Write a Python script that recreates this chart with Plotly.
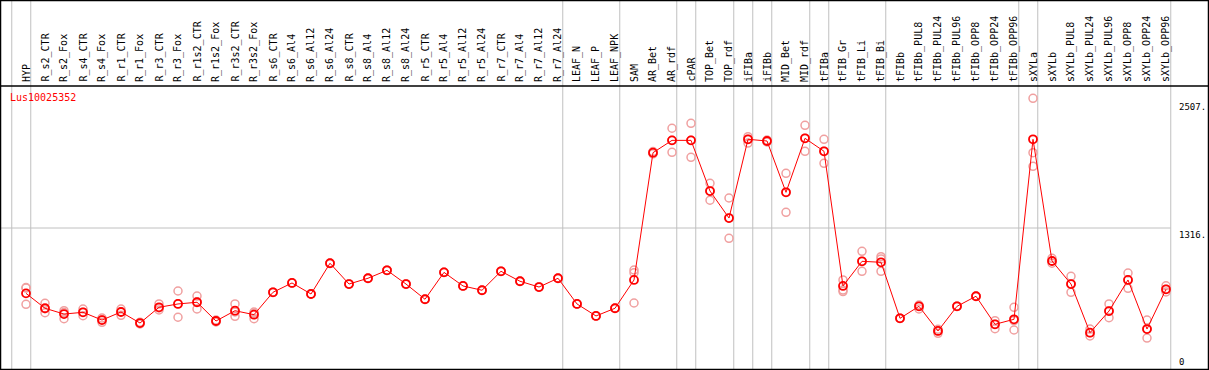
import plotly.graph_objects as go

categories = ["HYP", "R_s2_CTR", "R_s2_Fox", "R_s4_CTR", "R_s4_Fox", "R_r1_CTR", "R_r1_Fox",
              "R_r3_CTR", "R_r3_Fox", "R_r1s2_CTR", "R_r1s2_Fox", "R_r3s2_CTR", "R_r3s2_Fox",
              "R_s6_CTR", "R_s6_Al4", "R_s6_Al12", "R_s6_Al24", "R_s8_CTR", "R_s8_Al4", "R_s8_Al12",
              "R_s8_Al24", "R_r5_CTR", "R_r5_Al4", "R_r5_Al12", "R_r5_Al24", "R_r7_CTR", "R_r7_Al4",
              "R_r7_Al12", "R_r7_Al24", "LEAF_N", "LEAF_P", "LEAF_NPK", "SAM", "AR_Bet", "AR_rdf",
              "cPAR", "TOP_Bet", "TOP_rdf", "iFIBa", "iFIBb", "MID_Bet", "MID_rdf", "tFIBa",
              "tFIB_Gr", "tFIB_Li", "tFIB_Bi", "tFIBb", "tFIBb_PUL8", "tFIBb_PUL24", "tFIBb_PUL96",
              "tFIBb_OPP8", "tFIBb_OPP24", "tFIBb_OPP96", "sXYLa", "sXYLb", "sXYLb_PUL8",
              "sXYLb_PUL24", "sXYLb_PUL96", "sXYLb_OPP8", "sXYLb_OPP24", "sXYLb_OPP96"]

means = [706, 567, 513, 529, 457, 532, 429, 576, 607, 623, 448, 544, 507,
         716, 803, 700, 987, 793, 847, 921, 793, 651, 902, 775, 735, 912, 819, 765, 847, 607, 495, 567,
         831, 2019, 2134, 2134, 1661, 1409, 2144, 2128, 1649, 2153, 2032, 775, 1005, 996,
         473, 585, 355, 585, 679, 417, 464, 2144, 1008, 793, 339, 541, 831, 373, 744]

rep1 = [760, 613, 544, 560, 476, 560, 436, 607, 728, 681, 457, 607, 532,
        716, 803, 700, 987, 793, 847, 921, 793, 651, 902, 775, 735, 912, 819, 765, 847, 607, 495, 567,
        924, 2030, 2247, 2293, 1733, 1596, 2168, 2137, 1826, 2274, 2144, 831, 1098, 1048,
        473, 597, 371, 585, 679, 451, 576, 2526, 1033, 865, 373, 607, 896, 457, 777]
rep2 = [755, 563, 527, 530, 460, 535, 431, 570, 610, 628, 448, 533, 520,
        716, 803, 700, 987, 793, 847, 921, 793, 651, 902, 775, 735, 912, 819, 765, 847, 607, 495, 567,
        899, 2019, 2134, 2134, 1661, 1409, 2144, 2128, 1649, 2153, 2032, 737, 1005, 1027,
        473, 585, 355, 585, 679, 417, 452, 2019, 1008, 793, 339, 541, 831, 373, 744]
rep3 = [604, 525, 469, 497, 436, 501, 420, 551, 483, 560, 439, 492, 469,
        716, 803, 700, 987, 793, 847, 921, 793, 651, 902, 775, 735, 912, 819, 765, 847, 607, 495, 567,
        616, 2008, 2022, 1976, 1575, 1220, 2109, 2119, 1462, 2032, 1920, 723, 912, 912,
        473, 560, 333, 585, 679, 376, 364, 1892, 987, 716, 308, 479, 753, 289, 719]

group_ends = [-1, 0, 28, 31, 34, 35, 37, 38, 39, 41, 42, 45, 52, 53, 60]
tick_values = [2507, 1316, 0]
tick_labels = ["2507.", "1316.", "0"]
gene = "Lus10025352"

W, H = 1209, 370
X0_PX, STEP_PX = 26, 19          # pixel position of first category and spacing
Y0_PX, UNITS_PER_PX = 369, 1316 / 141.0
HEADER_PX = 86

x = list(range(len(categories)))
xr = [-X0_PX / STEP_PX, (W - X0_PX) / STEP_PX]
yr = [(Y0_PX - H) * UNITS_PER_PX, Y0_PX * UNITS_PER_PX]
header_y = (Y0_PX - HEADER_PX) * UNITS_PER_PX
label_y = (Y0_PX - HEADER_PX + 2) * UNITS_PER_PX

MONO = "DejaVu Sans Mono"
fig = go.Figure()

pale = "#f0a0a0"
for reps in (rep1, rep2, rep3):
    fig.add_trace(go.Scatter(x=x, y=reps, mode="markers",
                             marker=dict(symbol="circle-open", size=8, color=pale,
                                         line=dict(width=1.5, color=pale)),
                             showlegend=False, hoverinfo="skip"))

fig.add_trace(go.Scatter(x=x, y=means, mode="lines+markers",
                         line=dict(color="#ff0000", width=1),
                         marker=dict(symbol="circle-open", size=8, color="#ff0000",
                                     line=dict(width=1.8, color="#ff0000")),
                         showlegend=False))

shapes = []
grey = "#c0c0c0"
for g in group_ends:
    shapes.append(dict(type="line", xref="x", yref="paper", x0=g + 0.25, x1=g + 0.25,
                       y0=0, y1=1, line=dict(color=grey, width=1), layer="below"))
shapes.append(dict(type="line", xref="x", yref="y", x0=xr[0], x1=group_ends[-1] + 0.25,
                   y0=tick_values[1], y1=tick_values[1], line=dict(color=grey, width=1), layer="below"))
shapes.append(dict(type="line", xref="paper", yref="y", x0=0, x1=1, y0=header_y, y1=header_y,
                   line=dict(color="black", width=1.5)))
shapes.append(dict(type="rect", xref="paper", yref="paper", x0=0, x1=1, y0=0, y1=1,
                   line=dict(color="black", width=2.5)))

annotations = []
for i, c in enumerate(categories):
    annotations.append(dict(x=i, y=label_y, xref="x", yref="y", text=c, textangle=-90,
                            showarrow=False, xanchor="center", yanchor="bottom",
                            font=dict(family=MONO, size=10, color="black")))
for v, t in zip(tick_values, tick_labels):
    annotations.append(dict(x=(1177 - X0_PX) / STEP_PX, y=v, xref="x", yref="y", text=t,
                            showarrow=False, xanchor="left",
                            yanchor="bottom" if v == 0 else "top",
                            font=dict(family=MONO, size=9, color="black")))
annotations.append(dict(x=8 / W, y=(H - 97) / H, xref="paper", yref="paper", text=gene,
                        showarrow=False, xanchor="left", yanchor="middle",
                        font=dict(family=MONO, size=10, color="#ff0000")))

fig.update_layout(width=W, height=H, margin=dict(l=0, r=0, t=0, b=0),
                  paper_bgcolor="white", plot_bgcolor="white",
                  xaxis=dict(range=xr, visible=False, fixedrange=True),
                  yaxis=dict(range=yr, visible=False, fixedrange=True),
                  shapes=shapes, annotations=annotations)

fig.write_html("out.html", config={"displayModeBar": False},
               post_script="document.body.style.margin='0';document.body.style.overflow='hidden';")
